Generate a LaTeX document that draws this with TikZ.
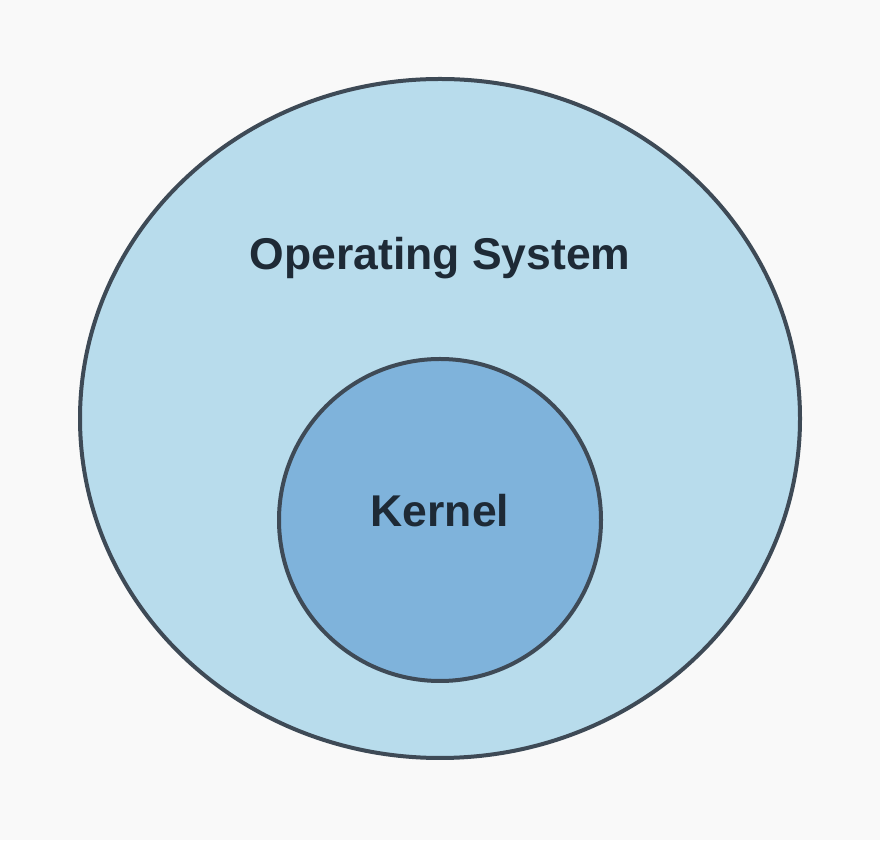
\documentclass[tikz,border=0pt]{standalone}
\usepackage{fontspec}
\setmainfont{Liberation Sans}
\usepackage{tikz}
\usetikzlibrary{positioning}

\definecolor{bgcol}{HTML}{F9F9F9}
\definecolor{oscol}{HTML}{B8DCEC}
\definecolor{kernelcol}{HTML}{7FB3DB}
\definecolor{edgecol}{HTML}{3E4A56}
\definecolor{textcol}{HTML}{1E2A36}

\tikzset{
    ring/.style={draw=edgecol, line width=4pt},
    ringlabel/.style={text=textcol, font=\fontsize{44.5}{52}\selectfont\bfseries, anchor=base}
}

\begin{document}
\begin{tikzpicture}[x=1pt,y=1pt]
            % Background
            \fill[bgcol] (0,0) rectangle (880,840);
            \useasboundingbox (0,0) rectangle (880,840);

            % Draw rings
            \draw[ring, fill=oscol] (440,421.5) ellipse (360 and 339.5);
            \draw[ring, fill=kernelcol] (440,320) circle (161);

            % Labels
            \node[ringlabel] (os) at (440,570) {Operating System};
            \node[ringlabel] (kernel) at (440,313) {Kernel};
        \end{tikzpicture}
\end{document}
